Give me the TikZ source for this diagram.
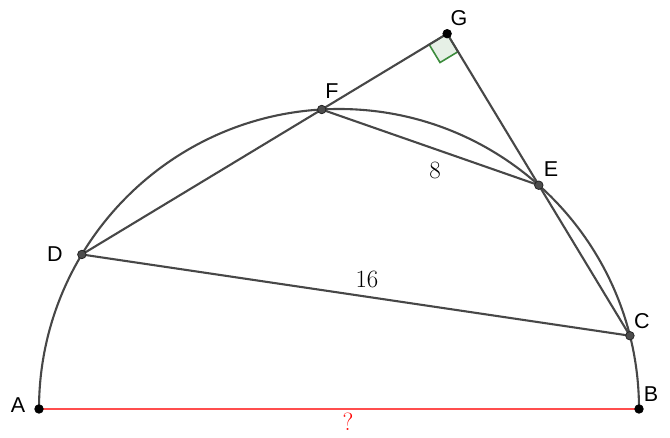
\documentclass[tikz,border=0pt]{standalone}
\usepackage{fontspec}
\newfontfamily\labelfont{Liberation Sans}
\definecolor{SegGray}{HTML}{474747}
\definecolor{PtGray}{HTML}{4D4D4D}
\definecolor{BaseRed}{HTML}{FF4D4D}
\definecolor{MarkGreen}{HTML}{3C8C3C}
\definecolor{MarkFill}{HTML}{E6F0E6}
\usepackage{tikz}
\usetikzlibrary{calc}

\begin{document}
\begin{tikzpicture}[x=1pt, y=1pt,
      seg/.style={SegGray, line width=2.1pt},
      base/.style={BaseRed, line width=2.2pt},
      rmark/.style={draw=MarkGreen, fill=MarkFill, line width=1.6pt},
      dot/.style={circle, fill=PtGray, draw=black!85, line width=0.8pt,
                  inner sep=0pt, minimum size=8.5pt},
      bdot/.style={dot, fill=black, draw=black},
      lbl/.style={font=\labelfont\fontsize{21.5}{25}\selectfont, inner sep=0pt},
      len/.style={font=\fontsize{26}{30}\selectfont, inner sep=0pt}]

      \useasboundingbox (0,0) rectangle (670,438);

      % semicircle on AB
      \coordinate (O) at (339,29);
      \coordinate (A) at ($(O)+(180:300)$);
      \coordinate (B) at ($(O)+(0:300)$);
      \coordinate (D) at ($(O)+(149:300)$);
      \coordinate (F) at ($(O)+(93.3:300)$);
      \coordinate (E) at ($(O)+(48.24:300)$);
      \coordinate (C) at ($(O)+(14.14:300)$);
      \coordinate (G) at (intersection of D--F and C--E);

      % right angle at G
      \coordinate (g1) at ($(G)!21pt!(F)$);
      \coordinate (g2) at ($(G)!21pt!(E)$);
      \filldraw[rmark] (G) -- (g1) -- ($(g1)+(g2)-(G)$) -- (g2) -- cycle;

      \draw[seg] (B) arc[start angle=0, end angle=180, radius=300];
      \draw[base] (A) -- (B);
      \draw[seg] (D) -- (C);
      \draw[seg] (D) -- (G);
      \draw[seg] (F) -- (E);
      \draw[seg] (G) -- (C);

      \foreach \p in {D, F, E, C}
        \node[dot] (\p-dot) at (\p) {};
      \foreach \p in {A, B, G}
        \node[bdot] (\p-dot) at (\p) {};

      \node[lbl] (labA) at (18,33)   {A};
      \node[lbl] (labB) at (651,44)  {B};
      \node[lbl] (labC) at (642,117) {C};
      \node[lbl] (labD) at (55,184)  {D};
      \node[lbl] (labE) at (551,269) {E};
      \node[lbl] (labF) at (332,347) {F};
      \node[lbl] (labG) at (459,420) {G};

      \node[len] (lenFE) at (435,268) {$8$};
      \node[len] (lenDC) at (367,159) {$16$};
      \node[len, text=red] (lenAB) at (348,16) {$?$};
    \end{tikzpicture}
\end{document}
